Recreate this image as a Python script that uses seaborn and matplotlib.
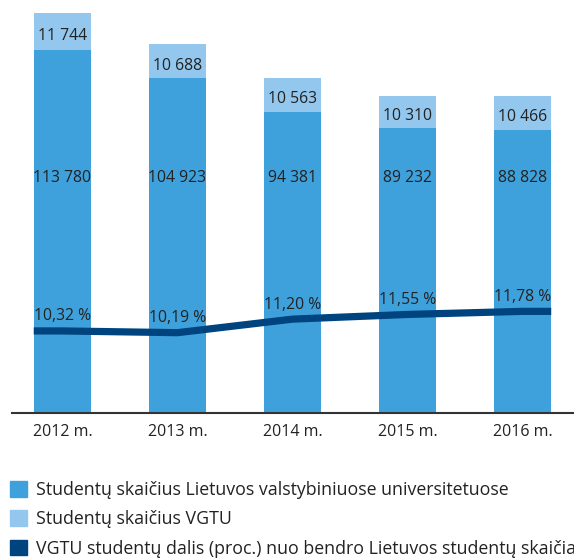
import matplotlib
matplotlib.use("Agg")
import matplotlib.pyplot as plt
from matplotlib.patches import Patch
import numpy as np
import pandas as pd
import seaborn as sns

years = ["2012 m.", "2013 m.", "2014 m.", "2015 m.", "2016 m."]
lt_students = [113780, 104923, 94381, 89232, 88828]
vgtu_students = [11744, 10688, 10563, 10310, 10466]
vgtu_share = [10.32, 10.19, 11.20, 11.55, 11.78]

legend_labels = [
    "Studentų skaičius Lietuvos valstybiniuose universitetuose",
    "Studentų skaičius VGTU",
    "VGTU studentų dalis (proc.) nuo bendro Lietuvos studentų skaičiaus",
]

DARK = "#3fa1dc"
LIGHT = "#94c7ee"
NAVY = "#00447f"
TEXT = "#222222"

sns.set_theme(style="white")
plt.rcParams["font.family"] = ["Open Sans", "DejaVu Sans"]

df = pd.DataFrame({"year": years, "lt": lt_students, "vgtu": vgtu_students})
df["total"] = df["lt"] + df["vgtu"]

W, H = 574, 559
fig = plt.figure(figsize=(W / 100, H / 100), dpi=100)
ax = fig.add_axes([12 / W, 1 - 413 / H, 562 / W, 413 / H])

sns.barplot(data=df, x="year", y="total", color=LIGHT, saturation=1, width=0.5,
            linewidth=0, errorbar=None, ax=ax)
sns.barplot(data=df, x="year", y="lt", color=DARK, saturation=1, width=0.5,
            linewidth=0, errorbar=None, ax=ax)

ax.set_xlim(-0.439, 4.448)
ax.set_ylim(0, 129500)
ax.set(xlabel="", ylabel="", yticks=[])
for side in ("left", "right", "top"):
    ax.spines[side].set_visible(False)
ax.spines["bottom"].set_color("#333333")
ax.spines["bottom"].set_linewidth(1.5)
ax.tick_params(axis="x", length=0, pad=8, labelsize=11.5, labelcolor=TEXT)

pos = np.arange(len(years))
for i, row in df.iterrows():
    ax.text(pos[i], 0.569, f"{row['lt']:,}".replace(",", " "), transform=ax.get_xaxis_transform(),
            ha="center", va="center", fontsize=11.3, color=TEXT)
    # VGTU label sits a little below the middle of the light segment
    ax.annotate(f"{row['vgtu']:,}".replace(",", " "), (pos[i], row["lt"] + row["vgtu"] / 2),
                xytext=(0, -3), textcoords="offset points",
                ha="center", va="center", fontsize=11.3, color=TEXT)

ax2 = ax.twinx()
ax2.set_ylim(4.2, 35.0)
ax2.set_yticks([])
for side in ax2.spines:
    ax2.spines[side].set_visible(False)
line_x = np.r_[pos[0] - 0.25, pos, pos[-1] + 0.25]
line_y = np.r_[vgtu_share[0], vgtu_share, vgtu_share[-1]]
ax2.plot(line_x, line_y, color=NAVY, linewidth=5.2, solid_capstyle="butt")
for x, v in zip(pos, vgtu_share):
    ax2.annotate(f"{v:.2f}".replace(".", ",") + " %", (x, v), xytext=(0, 10.5),
                 textcoords="offset points", ha="center", va="center",
                 fontsize=11.3, color=TEXT)

handles = [Patch(color=DARK), Patch(color=LIGHT), Patch(color=NAVY)]
fig.legend(handles, legend_labels, loc="upper left", bbox_to_anchor=(10 / W, 1 - 481 / H),
           frameon=False, borderpad=0, borderaxespad=0, handlelength=0.97, handleheight=0.97,
           handletextpad=0.52, labelspacing=0.64, fontsize=12.8, labelcolor=TEXT)

fig.savefig("out.png", dpi=100)
